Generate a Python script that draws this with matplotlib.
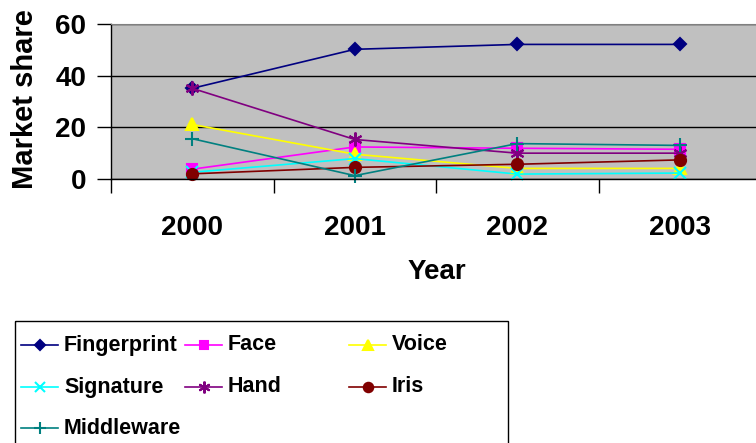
import matplotlib.pyplot as plt
from matplotlib.patches import Rectangle

# %% Data
years = ["2000", "2001", "2002", "2003"]
fingerprint = [35.1, 50.2, 52.1, 52.1]
face = [3.8, 12.4, 11.9, 11.5]
voice = [21.1, 9.6, 4.1, 4.1]
signature = [2.6, 7.9, 1.9, 2.3]
hand = [35.1, 15.3, 10.0, 10.0]
iris = [2.0, 4.5, 5.7, 7.4]
middleware = [15.6, 1.3, 13.7, 13.0]

names = ["Fingerprint", "Face", "Voice", "Signature", "Hand", "Iris", "Middleware"]
series = [fingerprint, face, voice, signature, hand, iris, middleware]
colors = ["#000080", "#FF00FF", "#FFFF00", "#00FFFF", "#800080", "#800000", "#008080"]
markers = ["D", "s", "^", "x", (6, 2, 0), "o", "+"]
msizes = [6.5, 7, 9, 9, 10, 8, 10]

plt.rcParams['font.family'] = ['Liberation Sans', 'DejaVu Sans']
plt.rcParams['font.weight'] = 'bold'

W, H = 756, 443
fig = plt.figure(figsize=(W / 100, H / 100), dpi=100)

# plot area (cut off on the right like the original)
left, right, top, bottom = 111, 761, 24, 179
ax = fig.add_axes([left / W, 1 - bottom / H, (right - left) / W, (bottom - top) / H])
ax.set_facecolor("#C0C0C0")

x = list(range(len(years)))
for vals, c, m, ms in zip(series, colors, markers, msizes):
    ax.plot(x, vals, color=c, lw=1.2, marker=m, ms=ms, mfc=c, mec=c, mew=1.5,
            clip_on=False)

ax.set_xlim(-0.5, 3.5)
ax.set_ylim(0, 60)
ax.set_yticks([0, 20, 40, 60])
ax.set_xticks(x)
ax.set_xticklabels(years)
ax.set_xticks([-0.5, 0.5, 1.5, 2.5, 3.5], minor=True)
ax.tick_params(axis='x', which='major', length=0, pad=26, labelsize=20)
ax.tick_params(axis='x', which='minor', length=10, width=1, direction='out')
ax.tick_params(axis='y', length=10, width=1, direction='out', pad=8, labelsize=20)
ax.grid(axis='y', color='black', lw=1)
ax.set_axisbelow(True)
ax.spines['right'].set_visible(False)
ax.spines['top'].set_color('#808080')
ax.spines['left'].set_linewidth(1)
ax.spines['bottom'].set_linewidth(1)

fig.text(437 / W, 1 - 272 / H, "Year", ha='center', va='center', fontsize=20,
         fontweight='bold')
fig.text(25 / W, 1 - 99 / H, "Market share", ha='center', va='center', fontsize=21,
         fontweight='bold', rotation=90)

# %% Legend (drawn by hand, box cut off at the bottom)
lax = fig.add_axes([0, 0, 1, 1])
lax.set_xlim(0, W)
lax.set_ylim(H, 0)
lax.axis('off')
lax.add_patch(Rectangle((15, 321), 493, 140, fill=False, ec='black', lw=1))

col_x = [21, 185, 349]
row_y = [345, 387, 428]
for i, (name, c, m, ms) in enumerate(zip(names, colors, markers, msizes)):
    cx = col_x[i % 3]
    cy = row_y[i // 3]
    lax.plot([cx, cx + 37], [cy, cy], color=c, lw=1.2)
    lax.plot([cx + 18.5], [cy], marker=m, ms=ms * 0.85, color=c, mfc=c, mec=c, mew=1.5)
    lax.text(cx + 43, cy, name, ha='left', va='center', fontsize=15.5,
             fontweight='bold')

fig.savefig("out.png", dpi=100)
